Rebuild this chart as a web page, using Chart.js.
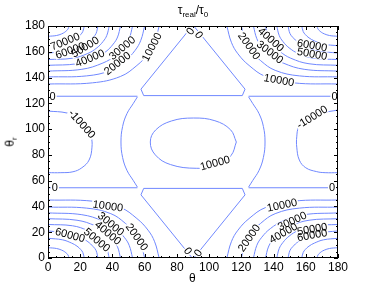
<!DOCTYPE html>
<html>
<head>
<meta charset="utf-8">
<script src="https://cdn.jsdelivr.net/npm/chart.js@4.4.0/dist/chart.umd.min.js"></script>
<style>
  html, body { margin: 0; padding: 0; background: #fff; }
  #wrap { position: relative; width: 374px; height: 291px; font-family: "Liberation Sans", Arial, sans-serif; color: #000; }
  canvas { position: absolute; left: 0; top: 0; }
  .lbl { position: absolute; font-size: 12px; white-space: nowrap; line-height: 1; }
  .lbl sub { font-size: 8px; vertical-align: -3px; line-height: 0; }
</style>
</head>
<body>
<div id="wrap">
  <canvas id="chart" width="374" height="291"></canvas>
  <div class="lbl" style="left:48px;width:290px;text-align:center;top:4px">τ<sub>real</sub>/τ<sub>0</sub></div>
  <div class="lbl" style="left:189px;top:272px">θ</div>
  <div class="lbl" style="left:5px;top:136px;transform:rotate(-90deg);transform-origin:center">θ<sub>r</sub></div>
</div>
<script>
// axis ticks
const xTicks = [0, 20, 40, 60, 80, 100, 120, 140, 160, 180];
const yTicks = [0, 20, 40, 60, 80, 100, 120, 140, 160, 180];

// corner contours, [theta, theta_r] pairs
const bottomLeft = [
  [10000, [[0,45],[27.6,44.1],[44.9,39.2],[55.2,30.6],[62.1,21.6],[66.2,12.6],[69,0]]],
  [20000, [[0,39.5],[24,38.7],[39,34.4],[48,26.9],[54,19],[57.6,11.1],[60,0]]],
  [30000, [[0,35],[21,33.6],[34.1,28.7],[42,22.8],[47.3,16.1],[50.4,9.8],[52.5,0]]],
  [40000, [[0,30.5],[18,29.3],[29.3,25],[36,19.8],[40.5,14],[43.2,8.5],[45,0]]],
  [50000, [[0,26],[15.2,25],[24.7,21.3],[30.4,16.9],[34.2,12],[36.5,7.3],[38,0]]],
  [60000, [[0,21],[12.4,19.3],[20.2,16],[24.8,12.6],[27.9,9],[29.8,5.9],[31,0]]],
  [70000, [[0,15.3],[9,14.1],[14.6,11.6],[18,9.2],[20.3,6.6],[21.6,4.3],[22.5,0]]],
  [80000, [[0,8],[5.2,7.4],[8.5,6.1],[10.4,4.8],[11.7,3.4],[12.5,2.2],[13,0]]]
];
const topLeft = [
  [10000, [[0,135],[27.6,135.9],[44.9,140.8],[55.2,149.4],[62.1,158.4],[66.2,167.4],[69,180]]],
  [20000, [[0,140.5],[24,141.3],[39,145.6],[48,153.1],[54,161],[57.6,168.9],[60,180]]],
  [30000, [[0,145],[21,146.4],[34.1,151.3],[42,157.2],[47.3,163.9],[50.4,170.2],[52.5,180]]],
  [40000, [[0,149.5],[18,150.7],[29.3,155],[36,160.2],[40.5,166],[43.2,171.5],[45,180]]],
  [50000, [[0,154],[15.2,155],[24.7,158.7],[30.4,163.1],[34.2,168],[36.5,172.7],[38,180]]],
  [60000, [[0,159],[12.4,160.7],[20.2,164],[24.8,167.4],[27.9,171],[29.8,174.1],[31,180]]],
  [70000, [[0,164.7],[9,165.9],[14.6,168.4],[18,170.8],[20.3,173.4],[21.6,175.7],[22.5,180]]],
  [80000, [[0,172],[5.2,172.6],[8.5,173.9],[10.4,175.2],[11.7,176.6],[12.5,177.8],[13,180]]]
];
const bottomRight = [
  [10000, [[180,45],[152.4,44.1],[135.1,39.2],[124.8,30.6],[117.9,21.6],[113.8,12.6],[111,0]]],
  [20000, [[180,39.5],[156,38.7],[141,34.4],[132,26.9],[126,19],[122.4,11.1],[120,0]]],
  [30000, [[180,35],[159,33.6],[145.9,28.7],[138,22.8],[132.7,16.1],[129.6,9.8],[127.5,0]]],
  [40000, [[180,30.5],[162,29.3],[150.7,25],[144,19.8],[139.5,14],[136.8,8.5],[135,0]]],
  [50000, [[180,26],[164.8,25],[155.3,21.3],[149.6,16.9],[145.8,12],[143.5,7.3],[142,0]]],
  [60000, [[180,21],[167.6,19.3],[159.8,16],[155.2,12.6],[152.1,9],[150.2,5.9],[149,0]]],
  [70000, [[180,15.3],[171,14.1],[165.4,11.6],[162,9.2],[159.7,6.6],[158.4,4.3],[157.5,0]]],
  [80000, [[180,8],[174.8,7.4],[171.5,6.1],[169.6,4.8],[168.3,3.4],[167.5,2.2],[167,0]]]
];
const topRight = [
  [10000, [[180,135],[152.4,135.9],[135.1,140.8],[124.8,149.4],[117.9,158.4],[113.8,167.4],[111,180]]],
  [20000, [[180,140.5],[156,141.3],[141,145.6],[132,153.1],[126,161],[122.4,168.9],[120,180]]],
  [30000, [[180,145],[159,146.4],[145.9,151.3],[138,157.2],[132.7,163.9],[129.6,170.2],[127.5,180]]],
  [40000, [[180,149.5],[162,150.7],[150.7,155],[144,160.2],[139.5,166],[136.8,171.5],[135,180]]],
  [50000, [[180,154],[164.8,155],[155.3,158.7],[149.6,163.1],[145.8,168],[143.5,172.7],[142,180]]],
  [60000, [[180,159],[167.6,160.7],[159.8,164],[155.2,167.4],[152.1,171],[150.2,174.1],[149,180]]],
  [70000, [[180,164.7],[171,165.9],[165.4,168.4],[162,170.8],[159.7,173.4],[158.4,175.7],[157.5,180]]],
  [80000, [[180,172],[174.8,172.6],[171.5,173.9],[169.6,175.2],[168.3,176.6],[167.5,177.8],[167,180]]]
];

// zero contours: straight pieces and the two side arcs
const zeroLines = [
  [[0,125.5],[55.5,125.5]],
  [[0,54.5],[55.5,54.5]],
  [[124.5,125.5],[180,125.5]],
  [[124.5,54.5],[180,54.5]],
  [[89.5,180],[57.7,131],[59.4,126],[120.6,126],[122.3,131],[90.5,180]],
  [[89.5,0],[57.7,49],[59.4,54],[120.6,54],[122.3,49],[90.5,0]]
];
const zeroArcs = [
  [[55.5,125],[53,120],[49,112],[46.3,102],[45.3,90],[46.3,78],[49,68],[53,60],[55.5,55]],
  [[124.5,125],[127,120],[131,112],[133.7,102],[134.7,90],[133.7,78],[131,68],[127,60],[124.5,55]]
];
// -10000 loops at the sides, 10000 loop in the middle
const negLeft = [[0,114],[11.8,112.5],[20,108],[24.2,101.6],[26.8,94],[27.3,86],[25.5,76],[21,70],[15.5,66.9],[8,66.2],[0,66.2]];
const negRight = [[180,114.8],[168.8,112.2],[160,108],[155.6,101.6],[154.4,94],[154.4,86],[156,76],[160,70],[166.8,67],[172,66.2],[180,66.2]];
const centerLoop = [[116.9,90],[113.3,99.5],[103.6,106.5],[90.2,108.6],[76.6,106.3],[66.8,99.3],[63.5,90],[66.6,80],[76,72.5],[92,69.6],[105,71.8],[113.6,79.5],[116.9,90]];

// contour labels: text, theta, theta_r, rotation (deg)
const labels = [
  ['70000', 10.6, 168, -22], ['60000', 13.7, 161, -20], ['50000', 23, 163.7, -32],
  ['40000', 26, 155, -22], ['30000', 46, 163, -40], ['20000', 43, 151, -38],
  ['10000', 64.5, 163.7, -62], ['0', 2.9, 125.5, 0], ['0', 88.3, 176, -55], ['0', 93.6, 173, 55],
  ['20000', 124.8, 164.5, 55], ['40000', 138.4, 169.5, 42], ['30000', 137.8, 159.8, 38],
  ['60000', 163.9, 165, 10], ['50000', 163.9, 158.3, 10], ['10000', 143.4, 138, 10],
  ['0', 177.8, 125.5, 0], ['-10000', 163.9, 109.4, -32], ['-10000', 21.1, 104, 48],
  ['10000', 103.7, 73.7, -15], ['0', 4.3, 54.5, 0], ['0', 176.3, 54.5, 0],
  ['10000', 37.2, 40.3, 8], ['30000', 39.1, 26.4, 40], ['40000', 37.2, 19.4, 40],
  ['50000', 30.4, 14, 40], ['60000', 13.7, 17.8, 15], ['20000', 55.2, 16.3, 55],
  ['0', 86.9, 5.4, 55], ['0', 93.1, 3.9, -55],
  ['10000', 145.3, 41, -12], ['20000', 124.8, 15.5, -55], ['30000', 151.5, 28.7, -25],
  ['40000', 146, 19.4, -30], ['50000', 164, 22.5, -10], ['60000', 164, 17.8, -10]
];

const lineColor = '#7088ff';
const datasets = [];
const addLine = (pts, tension) => datasets.push({
  data: pts.map(p => ({ x: p[0], y: p[1] })), showLine: true, pointRadius: 0,
  borderColor: lineColor, borderWidth: 1, tension: tension, fill: false
});
[bottomLeft, topLeft, bottomRight, topRight].forEach(q => q.forEach(c => addLine(c[1], 0.4)));
zeroLines.forEach(l => addLine(l, 0));
zeroArcs.forEach(l => addLine(l, 0.4));
addLine(negLeft, 0.4);
addLine(negRight, 0.4);
addLine(centerLoop, 0.4);

const FONT = '11px "Liberation Sans", Arial, sans-serif';

const frame = {
  id: 'frame',
  afterDatasetsDraw(chart) {
    const { ctx, chartArea: a, scales: { x, y } } = chart;
    ctx.save();
    ctx.font = FONT;
    ctx.textAlign = 'center';
    ctx.textBaseline = 'middle';
    // gaps in the lines under the labels, then the text
    labels.forEach(([t, lx, ly, ang]) => {
      ctx.save();
      ctx.translate(x.getPixelForValue(lx), y.getPixelForValue(ly));
      ctx.rotate(ang * Math.PI / 180);
      const w = ctx.measureText(t).width;
      ctx.fillStyle = '#fff';
      ctx.fillRect(-w / 2 - 1, -4, w + 2, 8);
      ctx.restore();
    });
    labels.forEach(([t, lx, ly, ang]) => {
      ctx.save();
      ctx.translate(x.getPixelForValue(lx), y.getPixelForValue(ly));
      ctx.rotate(ang * Math.PI / 180);
      ctx.fillStyle = '#000';
      ctx.fillText(t, 0, 0.5);
      ctx.restore();
    });
    // box and inward ticks
    ctx.strokeStyle = '#000';
    ctx.lineWidth = 1;
    ctx.strokeRect(a.left + 0.5, a.top + 0.5, a.right - a.left - 1, a.bottom - a.top - 1);
    ctx.beginPath();
    for (let v = 0; v <= 180; v += 5) {
      const len = v % 20 === 0 ? 4 : 2;
      const px = Math.round(x.getPixelForValue(v)) + 0.5;
      ctx.moveTo(px, a.bottom); ctx.lineTo(px, a.bottom - len);
      ctx.moveTo(px, a.top); ctx.lineTo(px, a.top + len);
      const py = Math.round(y.getPixelForValue(v)) + 0.5;
      ctx.moveTo(a.left, py); ctx.lineTo(a.left + len, py);
      ctx.moveTo(a.right, py); ctx.lineTo(a.right - len, py);
    }
    ctx.stroke();
    ctx.restore();
  }
};

new Chart(document.getElementById('chart'), {
  type: 'scatter',
  data: { datasets },
  options: {
    responsive: false, animation: false,
    layout: { padding: { left: 0, right: 36, top: 26, bottom: 0 } },
    plugins: { legend: { display: false }, tooltip: { enabled: false }, title: { display: false } },
    scales: {
      x: {
        type: 'linear', min: 0, max: 180,
        afterBuildTicks: s => { s.ticks = xTicks.map(v => ({ value: v })); },
        afterFit: s => { s.height = 33; },
        ticks: { color: '#000', font: { size: 12, family: '"Liberation Sans", Arial, sans-serif' }, padding: 2, maxRotation: 0 },
        grid: { display: false, drawTicks: false }, border: { display: false }
      },
      y: {
        type: 'linear', min: 0, max: 180,
        afterBuildTicks: s => { s.ticks = yTicks.map(v => ({ value: v })); },
        afterFit: s => { s.width = 48; },
        ticks: { color: '#000', font: { size: 12, family: '"Liberation Sans", Arial, sans-serif' }, padding: 3 },
        grid: { display: false, drawTicks: false }, border: { display: false }
      }
    }
  },
  plugins: [frame]
});
</script>
</body>
</html>
